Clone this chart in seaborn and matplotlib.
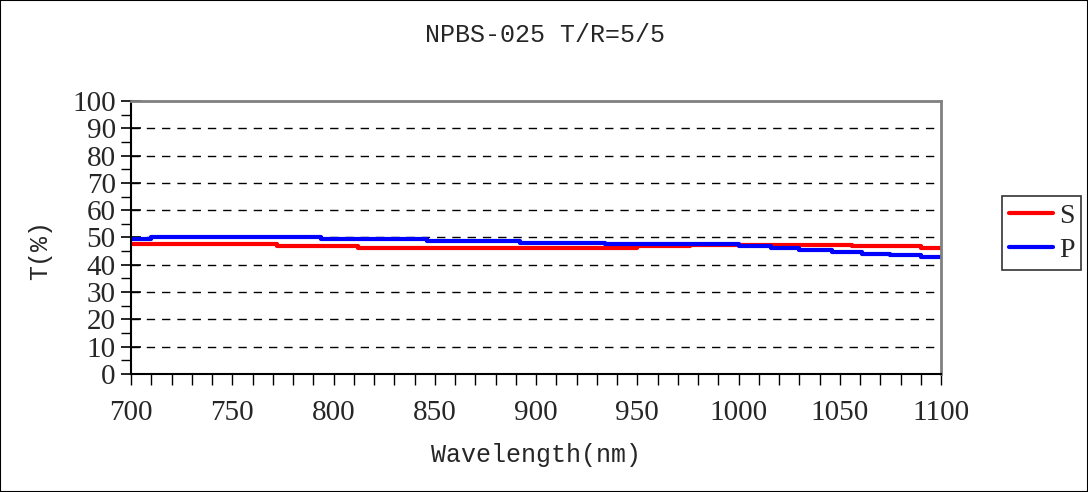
import matplotlib
matplotlib.use("Agg")
import matplotlib.pyplot as plt
import seaborn as sns
from matplotlib.patches import Rectangle
from matplotlib.ticker import MultipleLocator

# Data
wl_s = [700, 772, 812, 950, 976, 1056, 1090, 1100]
t_s = [47.5, 46.8, 46.0, 46.8, 47.4, 46.8, 46.2, 46.2]
wl_p = [700, 710, 794, 846, 892, 934, 1000, 1016, 1030, 1046, 1061, 1075, 1090, 1100]
t_p = [49.4, 50.3, 49.4, 48.7, 48.0, 47.5, 46.8, 46.0, 45.3, 44.6, 43.8, 43.5, 42.9, 42.9]
title = "NPBS-025 T/R=5/5"
xlabel = "Wavelength(nm)"
ylabel = "T(%)"

sns.set_theme(style="white")
mono = ["Liberation Mono", "DejaVu Sans Mono"]
serif = ["Liberation Serif", "DejaVu Serif"]

fig = plt.figure(figsize=(10.88, 4.92), dpi=100)
ax = fig.add_axes([131/1088, 1-374/492, (941-131)/1088, (374-101)/492])

sns.lineplot(x=wl_s, y=t_s, ax=ax, color="#FF0000", lw=3.0, drawstyle="steps-post", label="S")
sns.lineplot(x=wl_p, y=t_p, ax=ax, color="#0000FF", lw=3.0, drawstyle="steps-post", label="P")

ax.set_xlim(700, 1100)
ax.set_ylim(0, 100)
ax.xaxis.set_major_locator(MultipleLocator(50))
ax.xaxis.set_minor_locator(MultipleLocator(10))
ax.yaxis.set_major_locator(MultipleLocator(10))
ax.yaxis.set_minor_locator(MultipleLocator(5))

for y in range(10, 100, 10):
    ax.axhline(y, color="black", lw=1, ls=(0, (6, 5)), zorder=0)

ax.tick_params(axis="y", which="major", direction="inout", length=14, width=1.2, color="black",
               left=True, labelsize=21, pad=4)
ax.tick_params(axis="y", which="minor", direction="out", length=7, width=1, color="black", left=True)
ax.tick_params(axis="x", which="major", direction="out", length=8, width=1, color="black",
               bottom=True, labelsize=21, pad=11)
ax.tick_params(axis="x", which="minor", direction="out", length=8, width=1, color="black", bottom=True)
for lab in ax.get_xticklabels() + ax.get_yticklabels():
    lab.set_fontfamily(serif)

for s in ["left", "bottom"]:
    ax.spines[s].set_color("black")
    ax.spines[s].set_linewidth(1.5)
for s in ["top", "right"]:
    ax.spines[s].set_visible(True)
    ax.spines[s].set_color("#808080")
    ax.spines[s].set_linewidth(2)

ax.set_xlabel("")
ax.set_ylabel("")
fig.text(536/1088, 1-455/492, xlabel, ha="center", va="center", fontsize=18, family=mono)
fig.text(40/1088, 1-250/492, ylabel, ha="center", va="center", fontsize=18, family=mono, rotation=90)
fig.text(545/1088, 1-35/492, title, ha="center", va="center", fontsize=18, family=mono)

handles, labels = ax.get_legend_handles_labels()
ax.get_legend().remove()
leg = fig.legend(handles, labels,
                 loc="center left", bbox_to_anchor=(1002/1088, 1-233/492),
                 bbox_transform=fig.transFigure, frameon=True, fancybox=False,
                 edgecolor="black", prop={"family": serif, "size": 20},
                 handlelength=1.6, handletextpad=0.2, borderpad=0.25, labelspacing=0.3,
                 borderaxespad=0)
leg.get_frame().set_linewidth(1.2)

fig.patches.append(Rectangle((0, 0), 1, 1, transform=fig.transFigure, fill=False,
                             edgecolor="black", lw=1.5))

fig.savefig("out.png", dpi=100)
